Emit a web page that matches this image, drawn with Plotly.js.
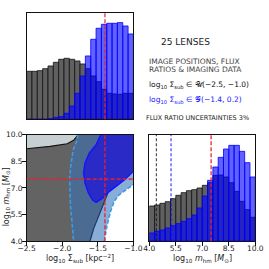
<!DOCTYPE html>
<html><head><meta charset="utf-8">
<script src="https://cdn.plot.ly/plotly-3.0.1.min.js"></script>
<style>html,body{margin:0;padding:0;background:#fff}#c{width:269px;height:269px}</style>
</head><body><div id="c"></div>
<script>
// ---- data ----
const sigmaCenters = [-2.4625,-2.3875,-2.3125,-2.2375,-2.1625,-2.0875,-2.0125,-1.9375,-1.8625,-1.7875,-1.7125,-1.6375,-1.5625,-1.4875,-1.4125,-1.3375,-1.2625,-1.1875,-1.1125,-1.0375];
const sigmaUniform = [144,144,146,152,160,171,180,183,180,175,166,152,130,113,90,78,76,75,78,78];
const sigmaGauss   = [0,0,0,0,2,6,8,18,40,78,130,190,240,273,285,288,288,290,280,256];
const mCenters = [4.15,4.45,4.75,5.05,5.35,5.65,5.95,6.25,6.55,6.85,7.15,7.45,7.75,8.05,8.35,8.65,8.95,9.25,9.55,9.85];
const mUniform = [106,109,114,119,128,138,146,152,155,160,168,176,198,199,193,176,150,120,95,72];
const mGauss   = [25,30,34,40,47,53,60,68,79,100,136,183,223,252,277,288,288,270,236,193];
const sigmaTicks = [-2.5,-2.0,-1.5,-1.0];
const mTicks = [4.0,5.5,7.0,8.5,10.0];
const trueSigma = -1.4, trueM = 7.5;
const mLineBlack = 4.4, mLineBlue = 5.23;
// contour outlines (log10 Sigma_sub, log10 m_hm)
const g95X = [-2.5,-2.5,-1.0,-1.0,-1.09,-1.2,-1.27,-1.32,-1.37,-1.41];
const g95Y = [4,10,10,7.2,6.95,6.62,6.25,5.7,4.9,4.0];
const g68X = [-2.5,-2.5,-2.17,-1.93,-1.84,-1.80,-1.78,-1.45,-1.40,-1.36,-1.43,-1.50,-1.56,-1.61];
const g68Y = [4,9.21,9.34,9.49,9.68,9.87,10,10,8.0,6.7,6.0,5.25,4.7,4.0];
const g68TopX = [-2.5,-2.17,-1.93,-1.84,-1.80,-1.78];
const g68TopY = [9.21,9.34,9.49,9.68,9.87,10];
const g68RightX = [-1.36,-1.43,-1.50,-1.56,-1.61];
const g68RightY = [6.7,6.0,5.25,4.7,4.0];
const b95LeftX = [-1.78,-1.80,-1.845,-1.875,-1.895,-1.895,-1.885,-1.865,-1.84];
const b95LeftY = [10,9.6,9.15,8.4,7.6,6.8,6.0,5.2,4.0];
const b95RightX = [-1.41,-1.37,-1.32,-1.27,-1.2,-1.09,-1.0];
const b95RightY = [4.0,4.9,5.7,6.25,6.62,6.95,7.2];
const b68X = [-1.46,-1.524,-1.618,-1.68,-1.70,-1.68,-1.633,-1.572,-1.524,-1.43,-1.335,-1.218,-1.123,-1.0];
const b68Y = [10,9.44,8.97,8.41,7.85,7.28,6.72,6.31,6.19,6.44,6.81,7.19,7.47,7.94];

const GRAY='#606060', BLUEA='rgba(0,0,255,0.62)';
const traces = [];
// top-left histogram
traces.push({type:'bar',x:sigmaCenters,y:sigmaUniform,width:0.075,xaxis:'x',yaxis:'y',marker:{color:GRAY,line:{color:'#111',width:0.8}}});
traces.push({type:'bar',x:sigmaCenters,y:sigmaGauss,width:0.075,xaxis:'x',yaxis:'y',marker:{color:BLUEA,line:{color:'#0000ff',width:0.8}}});
// bottom-right histogram
traces.push({type:'bar',x:mCenters,y:mUniform,width:0.3,xaxis:'x3',yaxis:'y3',marker:{color:GRAY,line:{color:'#111',width:0.8}}});
traces.push({type:'bar',x:mCenters,y:mGauss,width:0.3,xaxis:'x3',yaxis:'y3',marker:{color:BLUEA,line:{color:'#0000ff',width:0.8}}});
// 2D contours
const poly=(x,y,fc)=>({type:'scatter',mode:'lines',x:x.concat([x[0]]),y:y.concat([y[0]]),fill:'toself',fillcolor:fc,line:{width:0,color:'rgba(0,0,0,0)'},xaxis:'x2',yaxis:'y2',hoverinfo:'skip'});
const line=(x,y,c,w,d)=>({type:'scatter',mode:'lines',x:x,y:y,line:{color:c,width:w,dash:d||'solid'},xaxis:'x2',yaxis:'y2',hoverinfo:'skip'});
traces.push(poly(g95X,g95Y,'#c6cfd1'));
traces.push(poly(g68X,g68Y,'#636363'));
traces.push(line(g68TopX,g68TopY,'#111',1.2));
traces.push(line(g68RightX,g68RightY,'#111',1.2));
traces.push(poly(b95LeftX.concat(b95RightX).concat([-1.0]),b95LeftY.concat(b95RightY).concat([10]),'rgba(38,120,226,0.38)'));
traces.push(line(b95LeftX,b95LeftY,'#3a9bea',1.6,'4px,2px'));
traces.push(line(b95RightX,b95RightY,'#3a9bea',1.6,'4px,2px'));
traces.push(poly(b68X.concat([-1.0]),b68Y.concat([10]),'#2a2ac6'));
traces.push(line(b68X,b68Y,'#1414ff',1.4));

const tf={family:'DejaVu Sans',size:7.5,color:'#222'};
const frame={showline:true,mirror:true,linecolor:'#111',linewidth:1,showgrid:false,zeroline:false,fixedrange:true};
const layout={
  width:269,height:269,margin:{l:0,r:0,t:0,b:0},paper_bgcolor:'#fff',plot_bgcolor:'#fff',
  showlegend:false,barmode:'overlay',bargap:0,font:{family:'DejaVu Sans',color:'#222'},
  xaxis:Object.assign({},frame,{domain:[0.099,0.496],range:[-2.5,-1.0],anchor:'y',showticklabels:false,ticks:''}),
  yaxis:Object.assign({},frame,{domain:[0.5565,0.9506],range:[0,318],anchor:'x',showticklabels:false,ticks:''}),
  xaxis2:Object.assign({},frame,{domain:[0.099,0.496],range:[-2.5,-1.0],anchor:'y2',tickvals:sigmaTicks,tickformat:'.1f',ticks:'outside',ticklen:3.5,tickcolor:'#111',tickfont:tf,ticklabelstandoff:-4}),
  yaxis2:Object.assign({},frame,{domain:[0.103,0.4993],range:[4,10],anchor:'x2',tickvals:mTicks,tickformat:'.1f',ticks:'outside',ticklen:3.5,tickcolor:'#111',tickfont:tf,ticklabelstandoff:-2}),
  xaxis3:Object.assign({},frame,{domain:[0.555,0.949],range:[4,10],anchor:'y3',tickvals:mTicks,tickformat:'.1f',ticks:'outside',ticklen:3.5,tickcolor:'#111',tickfont:tf,ticklabelstandoff:-4}),
  yaxis3:Object.assign({},frame,{domain:[0.103,0.4993],range:[0,320],anchor:'x3',showticklabels:false,ticks:''}),
  shapes:[
    {type:'line',xref:'x',yref:'y domain',x0:trueSigma,x1:trueSigma,y0:0,y1:1,line:{color:'rgba(240,30,45,0.75)',width:1.6,dash:'4px,2px'}},
    {type:'line',xref:'x2',yref:'y2 domain',x0:trueSigma,x1:trueSigma,y0:0,y1:1,line:{color:'rgba(240,30,45,0.8)',width:1.6,dash:'4px,2px'}},
    {type:'line',xref:'x2 domain',yref:'y2',x0:0,x1:1,y0:trueM,y1:trueM,line:{color:'rgba(240,30,45,0.8)',width:1.6,dash:'4px,2px'}},
    {type:'line',xref:'x3',yref:'y3 domain',x0:mLineBlack,x1:mLineBlack,y0:0,y1:1,line:{color:'rgba(20,20,20,0.8)',width:1.1,dash:'3px,2px'}},
    {type:'line',xref:'x3',yref:'y3 domain',x0:mLineBlue,x1:mLineBlue,y0:0,y1:1,line:{color:'rgba(0,0,255,0.7)',width:1.3,dash:'3px,2px'}},
    {type:'line',xref:'x3',yref:'y3 domain',x0:trueM,x1:trueM,y0:0,y1:1,line:{color:'rgba(240,30,45,0.8)',width:1.6,dash:'4px,2px'}}
  ],
  annotations:[
    {xref:'paper',yref:'paper',x:0.688,y:0.844,text:'25 LENSES',showarrow:false,font:{size:9,color:'#222'},xanchor:'center',yanchor:'middle'},
    {xref:'paper',yref:'paper',x:0.545,y:0.773,text:'IMAGE POSITIONS, FLUX',showarrow:false,font:{size:7.5,color:'#444'},xanchor:'left',yanchor:'middle'},
    {xref:'paper',yref:'paper',x:0.545,y:0.741,text:'RATIOS &amp; IMAGING DATA',showarrow:false,font:{size:7.5,color:'#444'},xanchor:'left',yanchor:'middle'},
    {xref:'paper',yref:'paper',x:0.545,y:0.684,text:'log<sub>10</sub> Σ<sub>sub</sub> ∈ 𝒰(−2.5, −1.0)',showarrow:false,font:{size:7.5,color:'#111'},xanchor:'left',yanchor:'middle'},
    {xref:'paper',yref:'paper',x:0.545,y:0.628,text:'log<sub>10</sub> Σ<sub>sub</sub> ∈ 𝒢(−1.4, 0.2)',showarrow:false,font:{size:7.5,color:'#2020ff'},xanchor:'left',yanchor:'middle'},
    {xref:'paper',yref:'paper',x:0.535,y:0.563,text:'FLUX RATIO UNCERTAINTIES 3%',showarrow:false,font:{size:6.5,color:'#222'},xanchor:'left',yanchor:'middle'},
    {xref:'paper',yref:'paper',x:0.297,y:0.038,text:'log<sub>10</sub> Σ<sub>sub</sub> [kpc<sup>−2</sup>]',showarrow:false,font:{size:8,color:'#222'},xanchor:'center',yanchor:'middle'},
    {xref:'paper',yref:'paper',x:0.751,y:0.038,text:'log<sub>10</sub> <i>m</i><sub>hm</sub> [<i>M</i><sub>⊙</sub>]',showarrow:false,font:{size:8,color:'#222'},xanchor:'center',yanchor:'middle'},
    {xref:'paper',yref:'paper',x:0.024,y:0.268,text:'log<sub>10</sub> <i>m</i><sub>hm</sub> [<i>M</i><sub>⊙</sub>]',showarrow:false,textangle:-90,font:{size:8,color:'#222'},xanchor:'center',yanchor:'middle'}
  ]
};
Plotly.newPlot('c',traces,layout,{staticPlot:true,displayModeBar:false});
</script></body></html>
